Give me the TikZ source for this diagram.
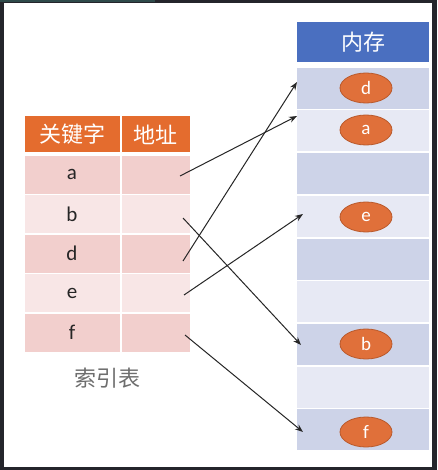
\documentclass[tikz,border=0pt]{standalone}
\usepackage{fontspec}
\setmainfont{Carlito}
\newfontfamily\cjk{Noto Sans CJK SC}
\usetikzlibrary{shapes.geometric,arrows.meta}
\definecolor{frame}{HTML}{24252B}
\definecolor{teal}{HTML}{2E4A4A}
\definecolor{hdrorange}{HTML}{E46C2E}
\definecolor{pinkD}{HTML}{F2CFCD}
\definecolor{pinkL}{HTML}{F8E6E6}
\definecolor{hdrblue}{HTML}{4A6FC0}
\definecolor{blueD}{HTML}{CDD3E8}
\definecolor{blueL}{HTML}{E7E9F4}
\definecolor{ellfill}{HTML}{E0703A}
\definecolor{elldraw}{HTML}{B9592B}
\definecolor{captiongray}{HTML}{6E6E6E}
\definecolor{arrowgray}{HTML}{262626}
\begin{document}
\begin{tikzpicture}[x=1pt,y=-1pt,
  keycell/.style={draw=none,inner sep=0pt,minimum width=95pt,minimum height=38pt,text=black!85,font=\fontsize{21}{21}\selectfont},
  addrcell/.style={draw=none,inner sep=0pt,minimum width=68.5pt,minimum height=38pt},
  khead/.style={fill=hdrorange,text=white,inner sep=0pt,minimum height=36pt,font=\cjk\fontsize{22}{22}\selectfont},
  memhead/.style={fill=hdrblue,text=white,inner sep=0pt,minimum width=132pt,minimum height=40pt,font=\cjk\fontsize{22}{22}\selectfont},
  memrow/.style={inner sep=0pt,minimum width=132pt,minimum height=41pt},
  item/.style={ellipse,fill=ellfill,draw=elldraw,line width=0.8pt,text=white,inner sep=0pt,minimum width=52pt,minimum height=30pt,font=\fontsize{19}{19}\selectfont},
  link/.style={draw=arrowgray,line width=1pt,-{Stealth[length=8pt,width=6pt]}}
]
% frame and background
\fill[frame] (0,0) rectangle (437,470);
\fill[teal] (0,0) rectangle (155,2.5);
\fill[white] (4,3) rectangle (432,467);
\useasboundingbox (0,0) rectangle (437,470);

% index table
\node[khead,minimum width=95pt] (hk) at (72,134.5) {关键字};
\node[khead,minimum width=68.5pt] (ha) at (155.75,134.5) {地址};
\node[keycell,fill=pinkD] (ka) at (72,174.75) {a};
\node[addrcell,fill=pinkD] (aa) at (155.75,174.75) {};
\node[keycell,fill=pinkL] (kb) at (72,214.25) {b};
\node[addrcell,fill=pinkL] (ab) at (155.75,214.25) {};
\node[keycell,fill=pinkD] (kd) at (72,253.75) {d};
\node[addrcell,fill=pinkD] (ad) at (155.75,253.75) {};
\node[keycell,fill=pinkL] (ke) at (72,293.25) {e};
\node[addrcell,fill=pinkL] (ae) at (155.75,293.25) {};
\node[keycell,fill=pinkD] (kf) at (72,332.75) {f};
\node[addrcell,fill=pinkD] (af) at (155.75,332.75) {};
\node[text=captiongray,font=\cjk\fontsize{22}{22}\selectfont] (cap) at (107,378) {索引表};

% memory column
\node[memhead] (mh) at (363,42) {内存};
\node[memrow,fill=blueD] (m1) at (363,88.33) {};
\node[memrow,fill=blueL] (m2) at (363,131.0) {};
\node[memrow,fill=blueD] (m3) at (363,173.67) {};
\node[memrow,fill=blueL] (m4) at (363,216.33) {};
\node[memrow,fill=blueD] (m5) at (363,259.0) {};
\node[memrow,fill=blueL] (m6) at (363,301.67) {};
\node[memrow,fill=blueD] (m7) at (363,344.33) {};
\node[memrow,fill=blueL] (m8) at (363,387.0) {};
\node[memrow,fill=blueD] (m9) at (363,429.67) {};

\node[item] (ed) at (366,88) {d};
\node[item] (ea) at (366,130) {a};
\node[item] (ee) at (366,217) {e};
\node[item] (eb) at (366,344) {b};
\node[item] (ef) at (366,432) {f};

% arrow endpoints
\coordinate (sa) at (180,176);
\coordinate (sb) at (183,218);
\coordinate (sd) at (183,261);
\coordinate (se) at (184,295);
\coordinate (sf) at (185,335);
\coordinate (ta) at (297,116);
\coordinate (tb) at (301,345);
\coordinate (td) at (297,82);
\coordinate (te) at (303,214);
\coordinate (tf) at (303,432);

\draw[link] (sa) -- (ta);
\draw[link] (sb) -- (tb);
\draw[link] (sd) -- (td);
\draw[link] (se) -- (te);
\draw[link] (sf) -- (tf);
\end{tikzpicture}
\end{document}
